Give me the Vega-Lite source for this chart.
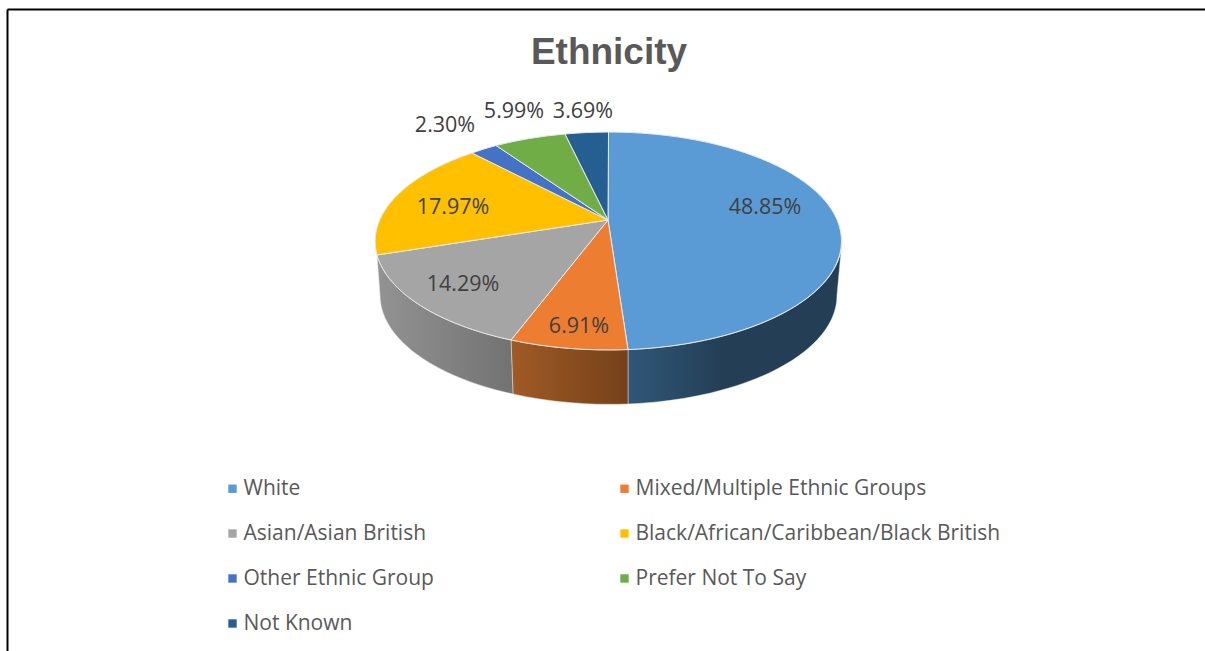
{"$schema":"https://vega.github.io/schema/vega-lite/v6.json","width":1198,"height":642,"autosize":{"type":"none"},"padding":{"left":7,"top":9,"right":0,"bottom":0},"background":"white","config":{"view":{"stroke":null}},
"title":{"text":"Ethnicity","font":"Liberation Sans","fontWeight":"bold","fontSize":37,"color":"#595959","anchor":"middle","frame":"group","baseline":"alphabetic","offset":-92,"dx":3},
"data":{"values":[
{"category":"White","share":0.4885},
{"category":"Mixed/Multiple Ethnic Groups","share":0.0691},
{"category":"Asian/Asian British","share":0.1429},
{"category":"Black/African/Caribbean/Black British","share":0.1797},
{"category":"Other Ethnic Group","share":0.023},
{"category":"Prefer Not To Say","share":0.0599},
{"category":"Not Known","share":0.0369}]},
"layer":[
{"mark":{"type":"point","filled":true,"opacity":1,"size":0,"shape":"square"},
"encoding":{
"color":{"field":"category","type":"nominal","scale":{"domain":["White","Asian/Asian British","Other Ethnic Group","Not Known","Mixed/Multiple Ethnic Groups","Black/African/Caribbean/Black British","Prefer Not To Say"],"range":["#5B9BD5","#A5A5A5","#4472C4","#255E91","#ED7D31","#FFC000","#70AD47"]},"legend":{"title":null,"orient":"none","legendX":215,"legendY":469,"columns":2,"symbolType":"square","symbolSize":70,"symbolStrokeWidth":0,"labelFont":"Open Sans","labelFontSize":21,"labelColor":"#595959","labelLimit":500,"labelOffset":0.5,"rowPadding":23,"columnPadding":180,"gridAlign":"each"}}}},
{"transform":[{"filter":"datum.category==='White'"}],"mark":{"type":"point","filled":true,"opacity":1,"size":4,"stroke":"#dfe6ee","strokeWidth":0.5,"shape":"M236,-89 A233.5,109 0 0 1 22,19.6 L22,74 A228.5,109 0 0 0 231,-35 Z","fill":{"x1":0,"y1":0,"x2":1,"y2":0,"gradient":"linear","stops":[{"offset":0,"color":"#305778"},{"offset":0.45,"color":"#233e55"},{"offset":1,"color":"#233e55"}]}}},
{"transform":[{"filter":"datum.category==='Mixed/Multiple Ethnic Groups'"}],"mark":{"type":"point","filled":true,"opacity":1,"size":4,"stroke":"#e8e0da","strokeWidth":0.5,"shape":"M22,19.6 A233.5,109 0 0 1 -95,10 L-93,64 A228.5,109 0 0 0 22,74 Z","fill":{"x1":0,"y1":0,"x2":1,"y2":0,"gradient":"linear","stops":[{"offset":0,"color":"#a05a25"},{"offset":1,"color":"#75411a"}]}}},
{"transform":[{"filter":"datum.category==='Asian/Asian British'"}],"mark":{"type":"point","filled":true,"opacity":1,"size":4,"stroke":"#e6e6e6","strokeWidth":0.5,"shape":"M-95,10 A233.5,109 0 0 1 -229,-75 L-226,-35 A228.5,109 0 0 0 -93,64 Z","fill":{"x1":0,"y1":0,"x2":1,"y2":0,"gradient":"linear","stops":[{"offset":0,"color":"#939393"},{"offset":1,"color":"#727272"}]}}},
{"mark":{"type":"point","filled":true,"opacity":1,"size":4,"stroke":"#e9e9e9","strokeWidth":1},
"encoding":{
"fill":{"field":"category","type":"nominal","legend":null,"scale":{"domain":["Not Known","Prefer Not To Say","Other Ethnic Group","Black/African/Caribbean/Black British","Asian/Asian British","Mixed/Multiple Ethnic Groups","White"],"range":["#255E91","#70AD47","#4472C4","#FFC000","#A5A5A5","#ED7D31","#5B9BD5"]}},
"shape":{"field":"category","type":"nominal","legend":null,"scale":{"domain":["Not Known","Prefer Not To Say","Other Ethnic Group","Black/African/Caribbean/Black British","Asian/Asian British","Mixed/Multiple Ethnic Groups","White"],"range":[
"M2,-110 L-41,-196 A233.5,109 0 0 1 2.5,-198 Z",
"M2,-110 L-110,-184.5 A233.5,109 0 0 1 -41,-196 Z",
"M2,-110 L-134,-177 A233.5,109 0 0 1 -110,-184.5 Z",
"M2,-110 L-229,-75 A233.5,109 0 0 1 -134,-177 Z",
"M2,-110 L-95,10 A233.5,109 0 0 1 -229,-75 Z",
"M2,-110 L22,19.6 A233.5,109 0 0 1 -95,10 Z",
"M2,-110 L2.5,-198 A233.5,109 0 0 1 22,19.6 Z"]}}}},
{"mark":{"type":"text","font":"Open Sans","fontSize":21.5,"color":"#404040","align":"center","baseline":"middle"},
"encoding":{
"text":{"field":"share","type":"quantitative","format":".2%"},
"x":{"field":"share","type":"quantitative","scale":{"domain":[0,0.023,0.0369,0.0599,0.0691,0.1429,0.1797,0.4885,1],"range":[0,438,576,507,572,456,446,758,1198],"nice":false,"zero":false},"axis":{"orient":"top","title":null,"labels":false,"ticks":false,"grid":false,"values":[],"domainColor":"#000000","domainWidth":2}},
"y":{"field":"share","type":"quantitative","scale":{"domain":[0,0.023,0.0369,0.0599,0.0691,0.1429,0.1797,0.4885,1],"range":[0,117,103,103,318,276,199,199,642],"nice":false,"zero":false},"axis":{"orient":"left","title":null,"labels":false,"ticks":false,"grid":false,"values":[],"domainColor":"#000000","domainWidth":2}}}}
]}
